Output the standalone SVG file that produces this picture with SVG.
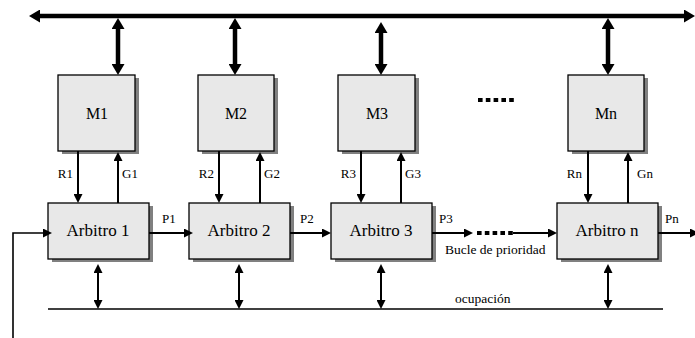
<svg xmlns="http://www.w3.org/2000/svg" width="695" height="338" viewBox="0 0 695 338">
  <style>
    .box { fill: #e8e8e8; stroke: #000; stroke-width: 1.3; }
    .shadow { fill: #808080; }
    .bold { stroke: #000; stroke-width: 4.5; fill: none; }
    .thin { stroke: #000; stroke-width: 2; fill: none; }
    .wire { stroke: #000; stroke-width: 1.6; fill: none; }
    .dots { stroke: #000; stroke-width: 4.2; stroke-dasharray: 4.6 3.2; fill: none; }
    text { fill: #000; }
    .big { font-size: 16px; text-anchor: middle; }
    .arb { font-size: 17px; text-anchor: middle; }
    .lbl { font-size: 13px; }
    .note { font-size: 13.5px; }
  </style>
  <defs>
    <marker id="headBig" viewBox="0 -6.5 11 13" refX="0" refY="0" markerWidth="11" markerHeight="13" markerUnits="userSpaceOnUse" orient="auto-start-reverse">
      <path d="M0,-6.5 L11,0 L0,6.5 z" fill="#000"/>
    </marker>
    <marker id="head" viewBox="0 -4.5 9 9" refX="0" refY="0" markerWidth="9" markerHeight="9" markerUnits="userSpaceOnUse" orient="auto-start-reverse">
      <path d="M0,-4.5 L9,0 L0,4.5 z" fill="#000"/>
    </marker>
  </defs>

  <g font-family="'Liberation Serif', 'DejaVu Serif', serif">

  <!-- system bus -->
  <g id="bus">
    <line class="bold" x1="40" y1="16" x2="684" y2="16" marker-start="url(#headBig)" marker-end="url(#headBig)"/>
  </g>

  <!-- memory modules -->
  <g id="M1">
    <rect class="shadow" x="62" y="78" width="77" height="76"/>
    <rect class="box" x="58" y="75" width="77" height="76"/>
    <text class="big" x="97" y="119">M1</text>
  </g>
  <g id="M2">
    <rect class="shadow" x="202" y="78" width="76" height="76"/>
    <rect class="box" x="198" y="75" width="76" height="76"/>
    <text class="big" x="236" y="119">M2</text>
  </g>
  <g id="M3">
    <rect class="shadow" x="342" y="78" width="77" height="76"/>
    <rect class="box" x="338" y="75" width="77" height="76"/>
    <text class="big" x="377" y="119">M3</text>
  </g>
  <g id="Mn">
    <rect class="shadow" x="572" y="78" width="76" height="76"/>
    <rect class="box" x="568" y="75" width="76" height="76"/>
    <text class="big" x="606" y="119">Mn</text>
  </g>

  <!-- arbiters -->
  <g id="A1">
    <rect class="shadow" x="52" y="206" width="101" height="56"/>
    <rect class="box" x="48" y="203" width="101" height="56"/>
    <text class="arb" x="98" y="236">Arbitro 1</text>
  </g>
  <g id="A2">
    <rect class="shadow" x="193" y="206" width="101" height="56"/>
    <rect class="box" x="189" y="203" width="101" height="56"/>
    <text class="arb" x="239" y="236">Arbitro 2</text>
  </g>
  <g id="A3">
    <rect class="shadow" x="335" y="206" width="101" height="56"/>
    <rect class="box" x="331" y="203" width="101" height="56"/>
    <text class="arb" x="381" y="236">Arbitro 3</text>
  </g>
  <g id="An">
    <rect class="shadow" x="561" y="206" width="101" height="56"/>
    <rect class="box" x="557" y="203" width="101" height="56"/>
    <text class="arb" x="607" y="236">Arbitro n</text>
  </g>

  <!-- ellipsis between module 3 and module n -->
  <g id="more">
    <line class="dots" x1="478" y1="100" x2="516" y2="100"/>
  </g>

  <!-- connectors -->
  <g id="connectors">
    <!-- bus to memory -->
    <line class="bold" x1="118" y1="29" x2="118" y2="64" marker-start="url(#headBig)" marker-end="url(#headBig)"/>
    <line class="bold" x1="235" y1="29" x2="235" y2="64" marker-start="url(#headBig)" marker-end="url(#headBig)"/>
    <line class="bold" x1="381" y1="33" x2="381" y2="64" marker-start="url(#headBig)" marker-end="url(#headBig)"/>
    <line class="bold" x1="608" y1="29" x2="608" y2="64" marker-start="url(#headBig)" marker-end="url(#headBig)"/>

    <!-- requests -->
    <line class="thin" x1="78" y1="151" x2="78" y2="194" marker-end="url(#head)"/>
    <line class="thin" x1="219" y1="151" x2="219" y2="194" marker-end="url(#head)"/>
    <line class="thin" x1="361" y1="151" x2="361" y2="194" marker-end="url(#head)"/>
    <line class="thin" x1="588" y1="151" x2="588" y2="194" marker-end="url(#head)"/>
    <!-- grants -->
    <line class="thin" x1="118" y1="203" x2="118" y2="161" marker-end="url(#head)"/>
    <line class="thin" x1="260" y1="203" x2="260" y2="161" marker-end="url(#head)"/>
    <line class="thin" x1="401" y1="203" x2="401" y2="161" marker-end="url(#head)"/>
    <line class="thin" x1="628" y1="203" x2="628" y2="161" marker-end="url(#head)"/>

    <!-- priority chain -->
    <polyline class="wire" points="13,338 13,233 43,233" marker-end="url(#head)"/>
    <line class="thin" x1="149" y1="233" x2="184" y2="233" marker-end="url(#head)"/>
    <line class="thin" x1="290" y1="233" x2="322" y2="233" marker-end="url(#head)"/>
    <line class="thin" x1="432" y1="233" x2="464" y2="233" marker-end="url(#head)"/>
    <line class="dots" x1="477" y1="233" x2="513" y2="233"/>
    <line class="thin" x1="513" y1="233" x2="548" y2="233" marker-end="url(#head)"/>
    <line class="thin" x1="658" y1="233" x2="690" y2="233" marker-end="url(#head)"/>

    <!-- busy line -->
    <line class="wire" x1="48" y1="309" x2="663" y2="309"/>
    <line class="thin" x1="98" y1="273" x2="98" y2="300" marker-start="url(#head)" marker-end="url(#head)"/>
    <line class="thin" x1="239" y1="273" x2="239" y2="300" marker-start="url(#head)" marker-end="url(#head)"/>
    <line class="thin" x1="381" y1="273" x2="381" y2="300" marker-start="url(#head)" marker-end="url(#head)"/>
    <line class="thin" x1="608" y1="273" x2="608" y2="300" marker-start="url(#head)" marker-end="url(#head)"/>
  </g>

  <!-- signal labels -->
  <g id="labels">
    <text class="lbl" x="73" y="178" text-anchor="end">R1</text>
    <text class="lbl" x="214" y="178" text-anchor="end">R2</text>
    <text class="lbl" x="356" y="178" text-anchor="end">R3</text>
    <text class="lbl" x="582" y="178" text-anchor="end">Rn</text>
    <text class="lbl" x="122" y="178">G1</text>
    <text class="lbl" x="264" y="178">G2</text>
    <text class="lbl" x="405" y="178">G3</text>
    <text class="lbl" x="637" y="178">Gn</text>
    <text class="lbl" x="162" y="223">P1</text>
    <text class="lbl" x="300" y="223">P2</text>
    <text class="lbl" x="439" y="223">P3</text>
    <text class="lbl" x="665" y="223">Pn</text>
    <text class="note" x="445" y="254">Bucle de prioridad</text>
    <text class="note" x="455" y="303">ocupación</text>
  </g>

  </g>
</svg>
